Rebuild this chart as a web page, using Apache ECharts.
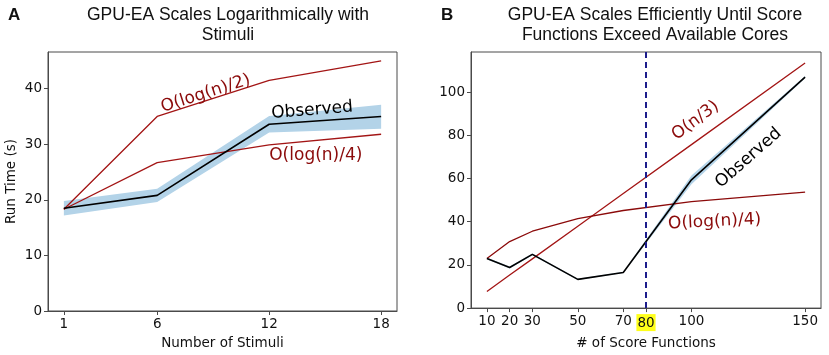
<!DOCTYPE html>
<html>
<head>
<meta charset="utf-8">
<script src="https://cdn.jsdelivr.net/npm/echarts@6/dist/echarts.min.js"></script>
<style>
  html, body { margin: 0; padding: 0; background: #fff; }
  #chart { width: 829px; height: 355px; }
</style>
</head>
<body>
<div id="chart"></div>
<script>
// panel A
var stimuli = [1, 6, 12, 18];
var logHalfA = [18.3, 35.0, 41.5, 45.0];
var logQuarterA = [18.3, 26.7, 29.9, 31.8];
var observedA = [18.5, 20.8, 33.6, 35.0];
var bandLowA = [17.2, 19.6, 32.1, 32.8];
var bandHighA = [19.8, 22.0, 35.1, 37.1];
var xTicksA = [1, 6, 12, 18];
var yTicksA = [0, 10, 20, 30, 40];

// panel B
var scoreFns = [10, 20, 30, 50, 70, 100, 150];
var linearB = [7.7, 15.3, 22.8, 37.9, 53.1, 75.7, 113.5];
var logQuarterB = [23.0, 30.8, 35.6, 41.4, 45.2, 49.3, 53.7];
var observedB = [23.0, 18.8, 24.9, 13.3, 16.5, 59.4, 107.0];
var bandLowB = [22.6, 18.3, 24.5, 13.0, 16.2, 57.4, 106.5];
var bandHighB = [23.4, 19.3, 25.3, 13.6, 16.8, 61.4, 107.5];
var xTicksB = [10, 20, 30, 50, 70, 80, 100, 150];
var yTicksB = [0, 20, 40, 60, 80, 100];
var coreLimit = 80;

var font = "DejaVu Sans";
var red = "#a31515";
var darkRed = "#8b0a0a";
var bandColor = "#b3d3e8";
var spine = "#4a4a4a";

function pairs(xs, ys) {
  return xs.map(function (x, i) { return [x, ys[i]]; });
}

function xAxis(idx, min, max, ticks, name) {
  return {
    type: "value", gridIndex: idx, min: min, max: max,
    name: name, nameLocation: "middle", nameGap: 25,
    nameTextStyle: { fontFamily: font, fontSize: 13.5, color: "#111" },
    splitLine: { show: false },
    axisLine: { lineStyle: { color: spine, width: 1 } },
    axisTick: { customValues: ticks, length: 4, lineStyle: { color: spine } },
    axisLabel: {
      customValues: ticks, fontFamily: font, fontSize: 13.5, color: "#111", margin: 6,
      formatter: function (v) { return v === coreLimit && idx === 1 ? "{hl|" + v + "}" : "" + v; },
      rich: { hl: { backgroundColor: "#ffff1a", fontFamily: font, fontSize: 13.5, color: "#111", padding: [2, 1, 1, 1] } }
    }
  };
}
function yAxis(idx, max, ticks, name) {
  return {
    type: "value", gridIndex: idx, min: 0, max: max,
    name: name, nameLocation: "middle", nameGap: 30,
    nameTextStyle: { fontFamily: font, fontSize: 13.5, color: "#111" },
    splitLine: { show: false },
    axisLine: { lineStyle: { color: spine, width: 1 } },
    axisTick: { customValues: ticks, length: 4, lineStyle: { color: spine } },
    axisLabel: { customValues: ticks, fontFamily: font, fontSize: 13.5, color: "#111", margin: 6 }
  };
}
function line(idx, xs, ys, color, width, z) {
  return {
    type: "line", xAxisIndex: idx, yAxisIndex: idx, data: pairs(xs, ys),
    symbol: "none", silent: true, z: z || 3,
    lineStyle: { color: color, width: width }
  };
}
// filled region between the low and high curves
function band(idx, xs, lo, hi) {
  return {
    type: "custom", xAxisIndex: idx, yAxisIndex: idx, silent: true, z: 1,
    data: xs.map(function (x, i) { return [x, lo[i], hi[i]]; }),
    encode: { x: 0, y: [1, 2] },
    renderItem: function (params, api) {
      if (params.dataIndexInside !== 0) return;
      var top = [], bottom = [];
      for (var i = 0; i < xs.length; i++) {
        top.push(api.coord([xs[i], hi[i]]));
        bottom.unshift(api.coord([xs[i], lo[i]]));
      }
      return {
        type: "polygon",
        shape: { points: top.concat(bottom) },
        style: { fill: bandColor }
      };
    }
  };
}

var chart = echarts.init(document.getElementById("chart"));
var titleStyle = { fontFamily: "Liberation Sans", fontSize: 17.5, fontWeight: "normal", color: "#111", lineHeight: 20 };
var option = {
  animation: false,
  backgroundColor: "#fff",
  title: [
    { text: "GPU-EA Scales Logarithmically with\nStimuli", left: 223, top: 0, textAlign: "center", textStyle: titleStyle },
    { text: "GPU-EA Scales Efficiently Until Score\nFunctions Exceed Available Cores", left: 650, top: 0, textAlign: "center", textStyle: titleStyle },
    { text: "A", left: 3, top: 2, textStyle: { fontFamily: "Liberation Sans", fontSize: 17, fontWeight: "bold", color: "#111" } },
    { text: "B", left: 436, top: 2, textStyle: { fontFamily: "Liberation Sans", fontSize: 17, fontWeight: "bold", color: "#111" } }
  ],
  grid: [
    { left: 48, right: 432, top: 52, bottom: 42, show: true, borderColor: spine, borderWidth: 1, backgroundColor: "transparent" },
    { left: 471, right: 8, top: 52, bottom: 42, show: true, borderColor: spine, borderWidth: 1, backgroundColor: "transparent" }
  ],
  xAxis: [
    xAxis(0, 0.15, 18.85, xTicksA, "Number of Stimuli"),
    xAxis(1, 3, 157, xTicksB, "# of Score Functions")
  ],
  yAxis: [
    yAxis(0, 46.6, yTicksA, "Run Time (s)"),
    yAxis(1, 118.6, yTicksB, "")
  ],
  series: [
    band(0, stimuli, bandLowA, bandHighA),
    line(0, stimuli, logHalfA, red, 1.3),
    line(0, stimuli, logQuarterA, red, 1.3),
    line(0, stimuli, observedA, "#000", 1.6, 4),
    band(1, scoreFns, bandLowB, bandHighB),
    line(1, scoreFns, linearB, red, 1.3),
    line(1, scoreFns, logQuarterB, darkRed, 1.3),
    Object.assign(line(1, scoreFns, observedB, "#000", 1.6, 4), {
      markLine: {
        silent: true, symbol: "none", label: { show: false },
        lineStyle: { color: "#1c1c8c", type: [6, 4], width: 2 },
        data: [{ xAxis: coreLimit }]
      }
    })
  ]
};
chart.setOption(option);

// text labels, anchored in data coordinates
var notes = [
  { grid: 0, at: [8.6, 39.1], text: "O(log(n)/2)", color: darkRed, rot: 0.31 },
  { grid: 0, at: [14.3, 36.1], text: "Observed", color: "#000", rot: 0.08 },
  { grid: 0, at: [14.5, 27.9], text: "O(log(n)/4)", color: darkRed, rot: 0 },
  { grid: 1, at: [101.8, 86.8], text: "O(n/3)", color: darkRed, rot: 0.64 },
  { grid: 1, at: [125.1, 69.5], text: "Observed", color: "#000", rot: 0.72 },
  { grid: 1, at: [110.2, 40.0], text: "O(log(n)/4)", color: darkRed, rot: 0.05 }
];
chart.setOption({
  graphic: notes.map(function (n) {
    var p = chart.convertToPixel({ gridIndex: n.grid }, n.at);
    return {
      type: "text", x: p[0], y: p[1], rotation: n.rot, z: 10,
      style: { text: n.text, fill: n.color, font: "17px '" + font + "'", align: "center", verticalAlign: "middle" }
    };
  })
});
</script>
</body>
</html>
